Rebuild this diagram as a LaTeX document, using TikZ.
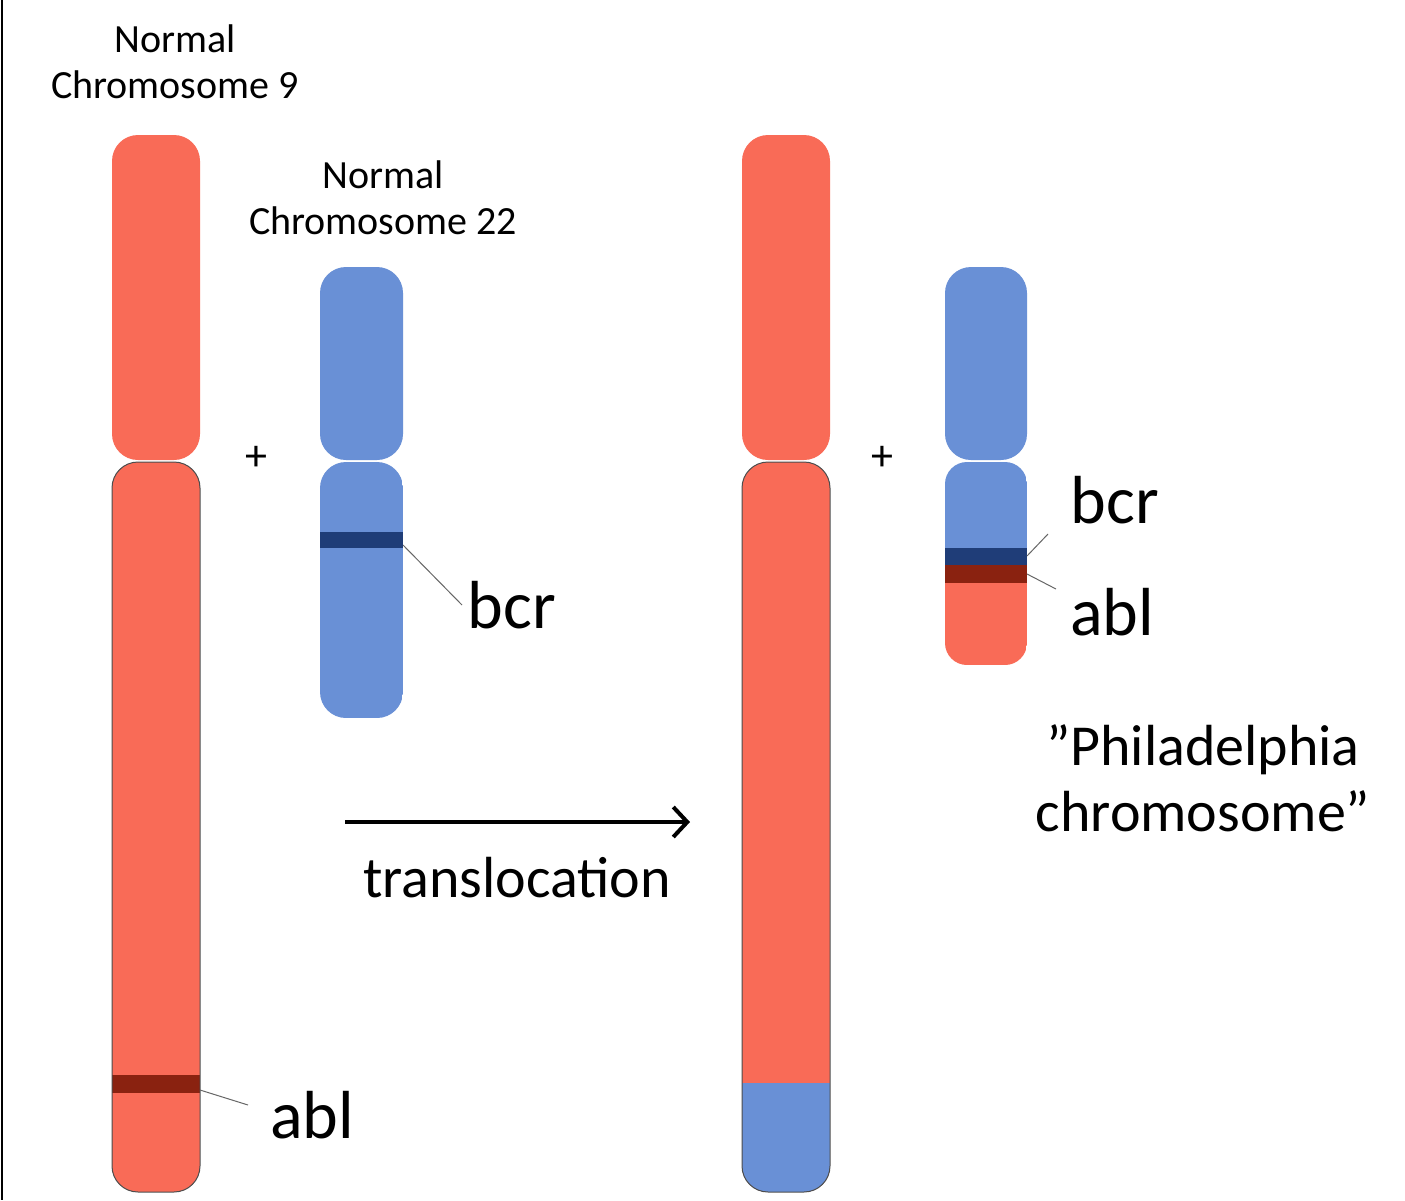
\documentclass[tikz,border=0pt]{standalone}
\usepackage{fontspec}
\usetikzlibrary{arrows.meta}
\setmainfont{Carlito}
\definecolor{cred}{HTML}{F96B57}
\definecolor{cblue}{HTML}{6990D6}
\definecolor{dred}{HTML}{8A2210}
\definecolor{dblue}{HTML}{1F3D78}
\begin{document}
\begin{tikzpicture}[x=1pt,y=-1pt,
  arm/.style={rounded corners=26pt},
  outl/.style={draw=black!70,line width=1pt,rounded corners=26pt},
  lbl/.style={font=\fontsize{40}{46}\selectfont,align=center,inner sep=0},
  big/.style={font=\fontsize{68}{74}\selectfont,inner sep=0},
  mid/.style={font=\fontsize{58}{66}\selectfont,align=center,inner sep=0},
  lead/.style={draw=black!60,line width=1pt}]
\useasboundingbox (0,0) rectangle (1405,1200);
\fill[white] (0,0) rectangle (1405,1200);
\draw[line width=2pt] (2,0) -- (2,1200);
% Normal chr 9
\fill[cred,arm] (112,135) rectangle (200,460);
\begin{scope}
\clip[rounded corners=26pt] (112,462) rectangle (200,1192);
\fill[cred] (112,462) rectangle (200,1192);
\fill[dred] (112,1075) rectangle (200,1093);
\end{scope}
\draw[outl] (112,462) rectangle (200,1192);
\coordinate (ablA) at (200,1090);
\node[big] (abl1) at (312,1115) {abl};
\draw[lead] (ablA) -- (248,1105);
% Normal chr 22
\fill[cblue,arm] (320,267) rectangle (403,460);
\begin{scope}
\clip[rounded corners=26pt] (320,462) rectangle (403,718);
\fill[cblue] (320,462) rectangle (403,718);
\fill[dblue] (320,532) rectangle (403,548);
\end{scope}
\coordinate (bcrA) at (403,545);
\node[big] (bcr1) at (512,605) {bcr};
\draw[lead] (bcrA) -- (462,605);
\node[lbl] (t9) at (175,62) {Normal\\Chromosome 9};
\node[lbl] (t22) at (383,198) {Normal\\Chromosome 22};
\node[font=\fontsize{44}{50}\selectfont] (p1) at (256,458) {+};
\node[font=\fontsize{44}{50}\selectfont] (p2) at (882,458) {+};
% arrow
\coordinate (a1) at (345,822);
\coordinate (a2) at (690,822);
\draw[line width=4pt,-{Straight Barb[length=14pt,width=30pt]}] (a1) -- (a2);
\node[mid] (tr) at (517,878) {translocation};
% derived chr 9
\fill[cred,arm] (742,135) rectangle (830,460);
\begin{scope}
\clip[rounded corners=26pt] (742,462) rectangle (830,1192);
\fill[cred] (742,462) rectangle (830,1192);
\fill[cblue] (742,1083) rectangle (830,1192);
\end{scope}
\draw[outl] (742,462) rectangle (830,1192);
% Philadelphia
\fill[cblue,arm] (945,267) rectangle (1027,460);
\begin{scope}
\clip[rounded corners=22pt] (945,462) rectangle (1027,665);
\fill[cblue] (945,462) rectangle (1027,548);
\fill[dblue] (945,548) rectangle (1027,565);
\fill[dred] (945,565) rectangle (1027,583);
\fill[cred] (945,583) rectangle (1027,665);
\end{scope}
\node[big] (bcr2) at (1115,500) {bcr};
\node[big] (abl2) at (1112,612) {abl};
\coordinate (b2) at (1027,556);
\coordinate (c2) at (1027,574);
\draw[lead] (b2) -- (1048,534);
\draw[lead] (c2) -- (1056,589);
\node[mid] (ph) at (1203,778) {"Philadelphia\\chromosome"};
\end{tikzpicture}
\end{document}
